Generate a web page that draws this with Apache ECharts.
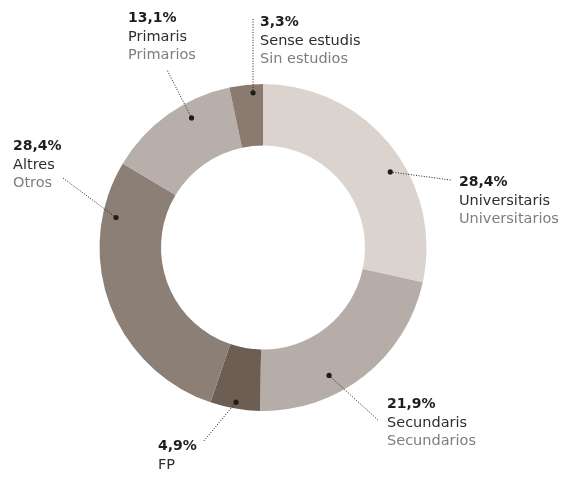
<!DOCTYPE html>
<html>
<head>
<meta charset="utf-8">
<script src="https://cdn.jsdelivr.net/npm/echarts@6/dist/echarts.min.js"></script>
<style>
  html, body { margin: 0; padding: 0; background: #fff; }
  #chart { width: 566px; height: 477px; }
</style>
</head>
<body>
<div id="chart"></div>
<script>
// Education level shares (clockwise from 12 o'clock)
const pctLabels = ['28,4%', '21,9%', '4,9%', '28,4%', '13,1%', '3,3%'];
const namesCa = ['Universitaris', 'Secundaris', 'FP', 'Altres', 'Primaris', 'Sense estudis'];
const namesEs = ['Universitarios', 'Secundarios', '', 'Otros', 'Primarios', 'Sin estudios'];
const values = [28.4, 21.9, 4.9, 28.4, 13.1, 3.3];

const colors = ['#dbd3cd', '#b7ada8', '#6d5e54', '#8c7f76', '#b9afaa', '#8a7a70'];

// Annotation layout: where each dot sits inside its slice (fraction of the slice's
// sweep, distance from centre), the leader end, and the label's top-left corner.
const dotFrac = [0.58, 0.64, 0.5, 0.81, 0.64, 0.69];
const dotRad = [148, 144, 157, 150, 148, 155];
const leaderEnd = [[451, 180], [378, 420], [203, 442], [63, 178], [167, 70], [253, 18]];
const labelPos = [[459, 173], [387, 395], [158, 437], [13, 137], [128, 9], [260, 13]];

const CX = 263, CY = 247.5, R_IN = 102, R_OUT = 163.5;

// Dot positions derived from the slice angles
const total = values.reduce((a, b) => a + b, 0);
const dots = [];
let acc = 0;
values.forEach((v, i) => {
  const sweep = v / total * 2 * Math.PI;
  const th = acc + sweep * dotFrac[i];
  dots.push([CX + dotRad[i] * Math.sin(th), CY - dotRad[i] * Math.cos(th)]);
  acc += sweep;
});

const FONT = '"DejaVu Sans"';
const chart = echarts.init(document.getElementById('chart'), null, { renderer: 'canvas' });

const leaders = dots.map((d, i) => ({
  type: 'polyline',
  shape: { points: [d, leaderEnd[i]] },
  style: { stroke: '#1d1d1b', lineWidth: 1, lineDash: [1, 1.6], fill: null },
  z: 100,
  silent: true
}));
const dotMarks = dots.map(d => ({
  type: 'circle',
  shape: { cx: d[0], cy: d[1], r: 2.6 },
  style: { fill: '#1d1d1b' },
  z: 101,
  silent: true
}));

chart.setOption({
  animation: false,
  backgroundColor: '#ffffff',
  series: [{
    type: 'pie',
    center: [CX, CY],
    radius: [R_IN, R_OUT],
    startAngle: 90,
    clockwise: true,
    silent: true,
    data: values.map((v, i) => ({ value: v, name: namesCa[i], itemStyle: { color: colors[i] } })),
    label: {
      show: true,
      position: 'outside',
      formatter: p => {
        const i = p.dataIndex;
        let s = '{p|' + pctLabels[i] + '}\n{c|' + namesCa[i] + '}';
        if (namesEs[i]) s += '\n{e|' + namesEs[i] + '}';
        return s;
      },
      rich: {
        p: { fontFamily: FONT, fontSize: 14, fontWeight: 'bold', color: '#1d1d1b', lineHeight: 18.5 },
        c: { fontFamily: FONT, fontSize: 14.5, color: '#2e2e2e', lineHeight: 18.5 },
        e: { fontFamily: FONT, fontSize: 14.5, color: '#7d7d7d', lineHeight: 18.5 }
      }
    },
    labelLine: { show: false },
    labelLayout: p => {
      const i = p.dataIndex;
      return { x: labelPos[i][0], y: labelPos[i][1], align: 'left', verticalAlign: 'top' };
    }
  }],
  graphic: leaders.concat(dotMarks)
});
</script>
</body>
</html>
